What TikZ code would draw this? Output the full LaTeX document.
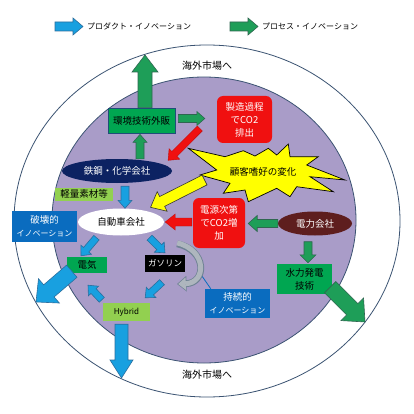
\documentclass[tikz,border=0pt]{standalone}
\usepackage{fontspec}
\setmainfont{Noto Sans CJK JP}
\usetikzlibrary{calc,shapes.geometric,arrows.meta}
\definecolor{ringc}{HTML}{3B5372}
\definecolor{purp}{HTML}{A99CC8}
\definecolor{grn}{HTML}{00A651}
\definecolor{grnarr}{HTML}{1E9E58}
\definecolor{grnline}{HTML}{2F6650}
\definecolor{blu}{HTML}{18A0E0}
\definecolor{bluline}{HTML}{2B6E9E}
\definecolor{boxline}{HTML}{1F4E79}
\definecolor{dblue}{HTML}{0A6CBF}
\definecolor{navyc}{HTML}{0C2262}
\definecolor{brownc}{HTML}{5E1E1E}
\definecolor{lgrn}{HTML}{92D050}
\definecolor{redc}{HTML}{F01010}
\definecolor{ylw}{HTML}{FFFF00}
\definecolor{grayarr}{HTML}{AEB6BE}
\definecolor{grayline}{HTML}{6F8294}
\newcommand\fsz{\fontsize{9.5}{13}\selectfont}
\newcommand\fsm{\fontsize{8}{13}\selectfont}
% block arrow: style, start, end, shaft half width, head half width, head length
\newcommand\blockarrow[6]{%
  \path let \p1=($#3-#2$), \n1={atan2(\y1,\x1)}, \n2={veclen(\x1,\y1)} in
    \pgfextra{\pgfmathsetmacro\baAngL{\n1}\global\let\baAng\baAngL
              \pgfmathsetmacro\baLenL{\n2}\global\let\baLen\baLenL};
  \draw[#1, shift={#2}, rotate=\baAng] (0pt,#4) -- ({\baLen pt-#6},#4) -- ({\baLen pt-#6},#5)
     -- (\baLen pt,0pt) -- ({\baLen pt-#6},-#5) -- ({\baLen pt-#6},-#4) -- (0pt,-#4) -- cycle;
}
\tikzset{
  lbl/.style={font=\fsz, align=center, inner sep=0pt},
  garr/.style={fill=grnarr, draw=grnline, line width=0.6pt},
  barr/.style={fill=blu, draw=bluline, line width=0.6pt},
  rarr/.style={fill=redc, draw=redc!80!black, line width=0.4pt},
  yarr/.style={fill=ylw, draw=black!80, line width=0.6pt},
  rbox/.style={lbl, rectangle, rounded corners=6pt, fill=redc, text=white},
  bbox/.style={lbl, rectangle, fill=dblue, text=white},
}
\begin{document}
\begin{tikzpicture}[x=1pt,y=-1pt]
\useasboundingbox (0,0) rectangle (414,414);
\fill[white] (0,0) rectangle (414,414);
% rings
\draw[ringc, line width=0.8pt] (207,221) ellipse [x radius=193pt, y radius=176pt];
\filldraw[fill=purp, draw=ringc, line width=0.8pt] (204,220) ellipse [x radius=152pt, y radius=143pt];
% legend
\node[lbl, font=\fsm, anchor=west] (leg1) at (87,26.5) {プロダクト・イノベーション};
\node[lbl, font=\fsm, anchor=west] (leg2) at (262,26.5) {プロセス・イノベーション};
\blockarrow{barr}{($(leg1.west)+(-32,0)$)}{($(leg1.west)+(-4,0)$)}{4.5pt}{8.5pt}{10pt}
\blockarrow{garr}{($(leg2.west)+(-32,0)$)}{($(leg2.west)+(-4,0)$)}{4.5pt}{8.5pt}{10pt}
% overseas labels
\node[lbl, font=\fontsize{10}{12}\selectfont] (outtop) at (207,66) {海外市場へ};
\node[lbl, font=\fontsize{10}{12}\selectfont] (outbot) at (207,375) {海外市場へ};
% starburst
\filldraw[fill=ylw, draw=black, line width=0.7pt] (188.3,148.3) -- (225,156.7) -- (243.3,150.7) -- (255,156) -- (268.3,148.3)
  -- (276.7,155) -- (288.3,144) -- (290,156.7) -- (318.3,156.7) -- (306.7,165) -- (345,180) -- (310,176.7)
  -- (333.3,191.7) -- (296.7,186.7) -- (290,196.7) -- (276.7,188.3) -- (248.3,201.7) -- (245,190)
  -- (223.3,193.3) -- (230,183.3) -- (200,175) -- (216.7,170) -- cycle;
\node[lbl] (burst) at (263,172) {顧客嗜好の変化};
% nodes
\node[lbl, rectangle, fill=grn, draw=boxline, line width=0.8pt, minimum width=67pt, minimum height=25pt] (kankyo) at (141.5,120.5) {環境技術外販};
\node[rbox, minimum width=55pt, minimum height=47pt] (seizo) at (244.5,119.5) {製造過程\\でCO2\\排出};
\node[lbl, ellipse, fill=navyc, text=white, minimum width=110pt, minimum height=24pt] (tekko) at (117,171) {鉄鋼・化学会社};
\node[lbl, rectangle, fill=lgrn, minimum width=58pt, minimum height=13pt] (keiryo) at (84,194) {軽量素材等};
\node[lbl, ellipse, fill=white, minimum width=86pt, minimum height=27pt] (jidosha) at (121,222) {自動車会社};
\node[bbox, minimum width=65pt, minimum height=31pt] (hakai) at (44.5,226.5) {破壊的\\{\fsm イノベーション}};
\node[rbox, minimum width=52pt, minimum height=50pt] (dengen) at (219,223) {電源次第\\でCO2増\\加};
\node[lbl, ellipse, fill=brownc, text=white, minimum width=74pt, minimum height=24pt] (denryoku) at (315,223.5) {電力会社};
\node[lbl, rectangle, fill=grn, minimum width=55pt, minimum height=30pt] (suiryoku) at (304.5,279) {水力発電\\技術};
\node[lbl, rectangle, fill=grn, minimum width=40pt, minimum height=16pt] (denki) at (87,265) {電気};
\node[lbl, rectangle, fill=black, text=white, font=\fontsize{8.5}{10}\selectfont, minimum width=40pt, minimum height=17pt] (gasoline) at (165,263.5) {ガソリン};
\node[lbl, rectangle, fill=lgrn, font=\fontsize{8}{10}\selectfont, minimum width=47pt, minimum height=18pt] (hybrid) at (126.5,312) {Hybrid};
\node[bbox, minimum width=65pt, minimum height=29pt] (jizoku) at (237.5,303.5) {持続的\\{\fsm イノベーション}};
% free ends
\coordinate (upout) at (145,55);
\coordinate (hydroout) at (365,322);
\coordinate (denkiout) at (36,302);
\coordinate (hybout) at (121.5,378);
% arrows
\blockarrow{garr}{($(kankyo.north)+(3.5,0)$)}{(upout)}{7pt}{13pt}{17pt}
\blockarrow{garr}{($(kankyo.east)+(3,-2)$)}{($(seizo.west)+(-12,-1)$)}{4pt}{7pt}{8pt}
\blockarrow{rarr}{($(seizo.west)+(-17,9)$)}{($(tekko.north east)+(12,-2)$)}{3.5pt}{7.5pt}{9pt}
\blockarrow{garr}{($(tekko.north)+(23,0)$)}{($(kankyo.south)+(-1.5,1)$)}{4pt}{7pt}{8pt}
\blockarrow{barr}{($(tekko.south)+(8,3)$)}{($(jidosha.north)+(4,0)$)}{4pt}{7pt}{8pt}
\blockarrow{yarr}{($(burst.west)+(-25,8)$)}{($(jidosha.north east)+(-1,-5)$)}{5.5pt}{11pt}{13pt}
\blockarrow{rarr}{($(dengen.west)+(-1,-1)$)}{($(jidosha.east)+(1,0)$)}{4pt}{8pt}{10pt}
\blockarrow{garr}{(denryoku.west)}{($(dengen.east)+(3,0.5)$)}{4pt}{8pt}{9pt}
\blockarrow{garr}{($(denryoku.south)+(-7,6)$)}{($(suiryoku.north)+(3.5,-1)$)}{4pt}{8pt}{8pt}
\blockarrow{garr}{($(suiryoku.south east)+(-2,-7)$)}{(hydroout)}{8pt}{16pt}{18pt}
\blockarrow{barr}{($(jidosha.south west)+(6,6)$)}{($(denki.north)+(-6,-1)$)}{3.5pt}{7pt}{8pt}
\blockarrow{barr}{($(jidosha.south east)+(-2,6)$)}{($(gasoline.north)+(0,-2)$)}{3.5pt}{7pt}{8pt}
\blockarrow{barr}{($(denki.south west)+(5,-2)$)}{(denkiout)}{8pt}{16pt}{17pt}
\blockarrow{barr}{($(hybrid.north west)+(-1,-3)$)}{($(denki.south)+(1,12)$)}{3.5pt}{7pt}{8pt}
\blockarrow{barr}{($(gasoline.south)+(-3,10)$)}{($(hybrid.north east)+(-5,-5)$)}{3.5pt}{7pt}{8pt}
\blockarrow{barr}{($(hybrid.south)+(-5,3)$)}{(hybout)}{6.5pt}{11.5pt}{18pt}
% sustaining innovation curve
\path ($(gasoline.north east)+(-8,-11)$) .. controls (207,250) and (207,283) .. (177,284) coordinate[pos=0.6] (arcpt);
\draw[dblue, line width=0.8pt] (arcpt) -- ($(jizoku.north west)+(6,0)$);
\draw[grayline, line width=6.8pt, -{Triangle[width=15pt,length=9.5pt]}] ($(gasoline.north east)+(-8,-11)$) .. controls (207,250) and (207,283) .. (177,284);
\draw[grayarr, line width=5pt, -{Triangle[width=12pt,length=7.5pt]}] ($(gasoline.north east)+(-8,-11.9)$) .. controls (207,250) and (207,283) .. (178.2,284);
\end{tikzpicture}
\end{document}
